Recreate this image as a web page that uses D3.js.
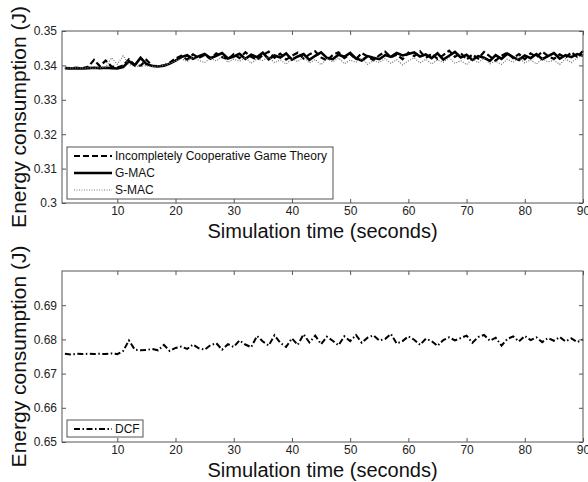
<!DOCTYPE html>
<html>
<head>
<meta charset="utf-8">
<script src="https://cdn.jsdelivr.net/npm/d3@7"></script>
<style>
  body { margin: 0; background: #fff; }
  text { font-family: "Liberation Sans", Arial, sans-serif; }
</style>
</head>
<body>
<script>
//Width and height
var w = 588;
var h = 482;

//Simulation time (seconds)
var timeSec = d3.range(1, 91);

//Energy consumption (J), top panel
var icgt = [0.3393, 0.3392, 0.3393, 0.3392, 0.3396, 0.3416, 0.3398, 0.3414, 0.3397, 0.3394,
  0.3400, 0.3418, 0.3401, 0.3399, 0.3416, 0.3399, 0.3398, 0.3400, 0.3408, 0.3420,
  0.3428, 0.3417, 0.3432, 0.3422, 0.3430, 0.3419, 0.3435, 0.3424, 0.3418, 0.3433,
  0.3421, 0.3438, 0.3425, 0.3416, 0.3430, 0.3440, 0.3422, 0.3434, 0.3417, 0.3428,
  0.3437, 0.3420, 0.3432, 0.3441, 0.3423, 0.3414, 0.3430, 0.3438, 0.3421, 0.3433,
  0.3418, 0.3436, 0.3426, 0.3415, 0.3429, 0.3440, 0.3424, 0.3431, 0.3418, 0.3437,
  0.3427, 0.3441, 0.3422, 0.3434, 0.3419, 0.3430, 0.3443, 0.3425, 0.3436, 0.3417,
  0.3432, 0.3420, 0.3439, 0.3426, 0.3414, 0.3428, 0.3437, 0.3421, 0.3433, 0.3418,
  0.3435, 0.3424, 0.3440, 0.3427, 0.3419, 0.3432, 0.3422, 0.3438, 0.3425, 0.3442];

var gmac = [0.3392, 0.3391, 0.3392, 0.3391, 0.3392, 0.3393, 0.3392, 0.3393, 0.3392, 0.3391,
  0.3395, 0.3412, 0.3400, 0.3422, 0.3404, 0.3398, 0.3397, 0.3399, 0.3405, 0.3414,
  0.3424, 0.3430, 0.3419, 0.3427, 0.3433, 0.3421, 0.3428, 0.3436, 0.3420, 0.3426,
  0.3434, 0.3419, 0.3431, 0.3424, 0.3437, 0.3418, 0.3429, 0.3423, 0.3435, 0.3417,
  0.3426, 0.3433, 0.3416, 0.3428, 0.3438, 0.3422, 0.3418, 0.3431, 0.3425, 0.3436,
  0.3420, 0.3414, 0.3427, 0.3422, 0.3418, 0.3430, 0.3425, 0.3436, 0.3429, 0.3433,
  0.3438, 0.3426, 0.3432, 0.3421, 0.3435, 0.3417, 0.3428, 0.3439, 0.3423, 0.3431,
  0.3416, 0.3427, 0.3422, 0.3413, 0.3430, 0.3419, 0.3434, 0.3424, 0.3416, 0.3429,
  0.3421, 0.3433, 0.3418, 0.3427, 0.3436, 0.3420, 0.3430, 0.3424, 0.3433, 0.3428];

var smac = [0.3393, 0.3392, 0.3393, 0.3392, 0.3393, 0.3392, 0.3393, 0.3395, 0.3422, 0.3403,
  0.3428, 0.3402, 0.3398, 0.3397, 0.3399, 0.3397, 0.3398, 0.3400, 0.3406, 0.3413,
  0.3420, 0.3411, 0.3424, 0.3415, 0.3408, 0.3421, 0.3413, 0.3426, 0.3409, 0.3418,
  0.3412, 0.3423, 0.3406, 0.3419, 0.3414, 0.3425, 0.3408, 0.3416, 0.3404, 0.3420,
  0.3411, 0.3424, 0.3407, 0.3417, 0.3402, 0.3419, 0.3410, 0.3422, 0.3405, 0.3415,
  0.3409, 0.3421, 0.3403, 0.3414, 0.3408, 0.3420, 0.3406, 0.3417, 0.3401, 0.3413,
  0.3422, 0.3407, 0.3418, 0.3404, 0.3416, 0.3409, 0.3423, 0.3406, 0.3414, 0.3402,
  0.3419, 0.3408, 0.3421, 0.3405, 0.3412, 0.3403, 0.3418, 0.3409, 0.3424, 0.3407,
  0.3416, 0.3404, 0.3420, 0.3410, 0.3415, 0.3403, 0.3419, 0.3408, 0.3422, 0.3430];

//Energy consumption (J), bottom panel
var dcf = [0.6758, 0.6756, 0.6758, 0.6757, 0.6758, 0.6757, 0.6758, 0.6757, 0.6759, 0.6757,
  0.6766, 0.6797, 0.6770, 0.6768, 0.6769, 0.6772, 0.6768, 0.6784, 0.6766, 0.6775,
  0.6779, 0.6772, 0.6785, 0.6774, 0.6770, 0.6783, 0.6789, 0.6770, 0.6786, 0.6778,
  0.6797, 0.6785, 0.6777, 0.6810, 0.6794, 0.6782, 0.6812, 0.6790, 0.6778, 0.6803,
  0.6784, 0.6815, 0.6791, 0.6811, 0.6786, 0.6808, 0.6796, 0.6783, 0.6809, 0.6795,
  0.6813, 0.6790, 0.6805, 0.6812, 0.6797, 0.6801, 0.6816, 0.6788, 0.6795, 0.6809,
  0.6799, 0.6784, 0.6802, 0.6795, 0.6781, 0.6798, 0.6806, 0.6797, 0.6804, 0.6811,
  0.6790, 0.6807, 0.6813, 0.6796, 0.6805, 0.6782, 0.6801, 0.6809, 0.6794, 0.6810,
  0.6798, 0.6806, 0.6792, 0.6804, 0.6796, 0.6807, 0.6794, 0.6803, 0.6792, 0.6800];

//Tick labels
var xTicks = [10, 20, 30, 40, 50, 60, 70, 80, 90];
var yTicksTop = [0.30, 0.31, 0.32, 0.33, 0.34, 0.35];
var yTicksBottom = [0.65, 0.66, 0.67, 0.68, 0.69];

var seriesTop = [
  { name: "Incompletely Cooperative Game Theory", values: icgt, dash: "6,3", width: 2.2, color: "#000" },
  { name: "G-MAC", values: gmac, dash: null, width: 2.6, color: "#000" },
  { name: "S-MAC", values: smac, dash: "1,1.5", width: 1.2, color: "#777" }
];
var seriesBottom = [
  { name: "DCF", values: dcf, dash: "6,2.5,1.5,2.5", width: 2, color: "#000" }
];

//Create SVG element
var svg = d3.select("body")
  .append("svg")
  .attr("width", w)
  .attr("height", h);

function drawPanel(top, bottom, yDomain, yTicks, series, legendBox, xLabelY) {
  var left = 62, right = 583;

  var xScale = d3.scaleLinear().domain([0.5, 90]).range([left, right]);
  var yScale = d3.scaleLinear().domain(yDomain).range([bottom, top]);

  var g = svg.append("g");

  //Lines
  var line = d3.line()
    .x(function(d, i) { return xScale(timeSec[i]); })
    .y(function(d) { return yScale(d); });

  series.forEach(function(s) {
    g.append("path")
      .datum(s.values)
      .attr("d", line)
      .attr("fill", "none")
      .attr("stroke", s.color)
      .attr("stroke-width", s.width)
      .attr("stroke-dasharray", s.dash);
  });

  //Axes, ticks pointing inwards on all four sides
  var axisColor = "#555";
  var fmt = function(d) { return String(+d.toFixed(2)); };

  var axes = [
    g.append("g").attr("transform", "translate(0," + bottom + ")")
      .call(d3.axisBottom(xScale).tickValues(xTicks).tickSizeInner(-4).tickSizeOuter(0).tickPadding(3)),
    g.append("g").attr("transform", "translate(0," + top + ")")
      .call(d3.axisTop(xScale).tickValues(xTicks).tickSizeInner(-4).tickSizeOuter(0).tickFormat("")),
    g.append("g").attr("transform", "translate(" + left + ",0)")
      .call(d3.axisLeft(yScale).tickValues(yTicks).tickSizeInner(-4).tickSizeOuter(0).tickPadding(5).tickFormat(fmt)),
    g.append("g").attr("transform", "translate(" + right + ",0)")
      .call(d3.axisRight(yScale).tickValues(yTicks).tickSizeInner(-4).tickSizeOuter(0).tickFormat(""))
  ];
  axes.forEach(function(a) {
    a.selectAll(".domain").remove();
    a.selectAll("line").attr("stroke", axisColor);
    a.selectAll("text").attr("fill", "#222").style("font-size", "12px");
  });

  g.append("rect")
    .attr("x", left).attr("y", top)
    .attr("width", right - left).attr("height", bottom - top)
    .attr("fill", "none").attr("stroke", axisColor).attr("stroke-width", 1);

  //Legend
  var lg = g.append("g");
  lg.append("rect")
    .attr("x", legendBox.x).attr("y", legendBox.y)
    .attr("width", legendBox.w).attr("height", legendBox.h)
    .attr("fill", "#fff").attr("stroke", axisColor);
  series.forEach(function(s, i) {
    var ry = legendBox.y + 9 + i * 17;
    lg.append("line")
      .attr("x1", legendBox.x + 7).attr("x2", legendBox.x + 45)
      .attr("y1", ry).attr("y2", ry)
      .attr("stroke", s.color)
      .attr("stroke-width", s.width)
      .attr("stroke-dasharray", s.dash);
    lg.append("text")
      .attr("x", legendBox.x + 48).attr("y", ry + 4)
      .attr("fill", "#111")
      .style("font-size", "12px")
      .text(s.name);
  });

  //Axis labels
  g.append("text")
    .attr("x", (left + right) / 2).attr("y", xLabelY)
    .attr("text-anchor", "middle")
    .style("font-size", "20px")
    .attr("fill", "#111")
    .text("Simulation time (seconds)");

  g.append("text")
    .attr("transform", "translate(26," + (top + bottom) / 2 + ") rotate(-90)")
    .attr("text-anchor", "middle")
    .style("font-size", "21px")
    .attr("fill", "#111")
    .text("Energy consumption (J)");
}

drawPanel(31, 203, [0.30, 0.35], yTicksTop, seriesTop, { x: 67, y: 147, w: 266, h: 52 }, 238);
drawPanel(271, 442, [0.65, 0.70], yTicksBottom, seriesBottom, { x: 67, y: 420, w: 76, h: 17 }, 477);
</script>
</body>
</html>
